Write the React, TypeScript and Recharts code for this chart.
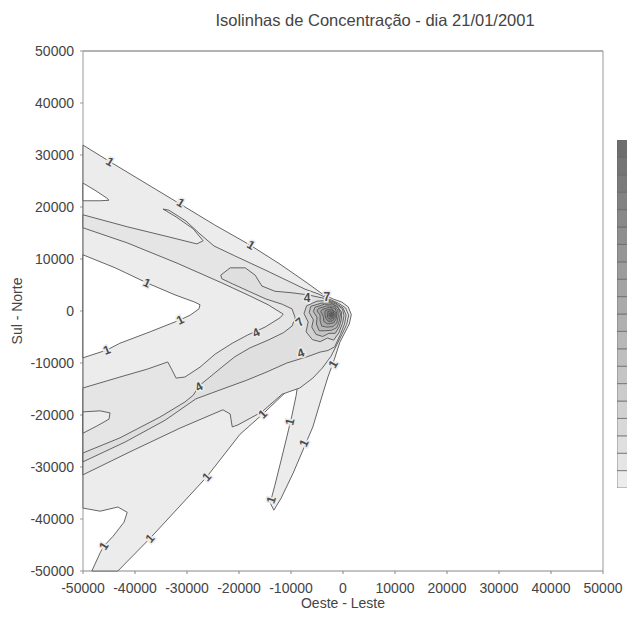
import { ScatterChart, Scatter, XAxis, YAxis, BarChart, Bar } from 'recharts'

// axis ticks (metres)
const axisTicks = [-50000, -40000, -30000, -20000, -10000, 0, 10000, 20000, 30000, 40000, 50000]

// contour levels of the colour scale
const contourLevels = [1, 4, 7, 10, 13, 16, 19, 22, 25, 28, 31, 34, 37, 40, 43, 46, 49, 52, 55, 58, 61]

// isoline 1 - outer envelope of the plume
const outerIsoline1 = [
  [-50000, 31900], [-44800, 28700], [-39000, 25200], [-31700, 20800], [-24600, 16500],
  [-17900, 12700], [-12100, 9000], [-6900, 5400], [-4000, 3300], [-1900, 2300],
  [-200, 1700], [1000, 800], [1600, -700], [1200, -2500], [-600, -6000],
  [-1700, -9400], [-2900, -12700], [-3800, -15600], [-5800, -22300], [-7300, -25800],
  [-9600, -31200], [-11900, -36000], [-13300, -38300], [-14000, -36900], [-13100, -33500],
  [-11900, -28700], [-10800, -24200], [-9800, -20000], [-9000, -16200], [-8700, -14000],
  [-10800, -15400], [-15400, -19800], [-19800, -23700], [-26200, -31900], [-33300, -39600],
  [-37100, -43700], [-43300, -50000], [-48300, -50000], [-46700, -46500], [-46000, -45200],
  [-44200, -43300], [-42100, -40600], [-41500, -38700], [-43300, -37700], [-46700, -38500],
  [-50000, -37900],
]

// areas below isoline 1 inside the envelope
const gapNorthWest = [
  [-50000, 24600], [-47500, 23100], [-45400, 21700], [-45000, 21300], [-46700, 21200], [-50000, 21200],
]
const gapInnerV = [
  [-50000, 10800], [-43800, 8300], [-37700, 5400], [-32300, 3100], [-28500, 1700],
  [-27500, 1200], [-27700, 400], [-29400, -800], [-31300, -1700], [-37100, -4000],
  [-42900, -6200], [-45400, -7500], [-50000, -9000],
]

// isoline 4
const band4 = [
  [-50000, 18500], [-41500, 16200], [-33300, 14200], [-28100, 12900], [-26900, 13500],
  [-28800, 15800], [-32100, 18100], [-34600, 19600], [-33500, 19400], [-30200, 17300],
  [-27500, 14800], [-24800, 12500], [-20800, 10600], [-15000, 7900], [-10200, 5600],
  [-7300, 4200], [-4800, 3300], [-2700, 2300], [-900, 1500], [500, 600],
  [1100, -800], [700, -2600], [-200, -4500], [-1200, -6500], [-2300, -8700],
  [-4000, -11000], [-5800, -12900], [-8300, -14800], [-11700, -16000], [-15600, -19400],
  [-20200, -21900], [-21300, -22300], [-21700, -19800], [-23100, -19000], [-31300, -22500],
  [-41000, -27100], [-50000, -31500], [-50000, -14800], [-42900, -12700], [-37700, -11200],
  [-33700, -9800], [-32900, -11300], [-32100, -12900], [-30400, -12700], [-27500, -10800],
  [-24600, -8300], [-21300, -6200], [-18300, -4600], [-15000, -3100], [-12100, -1300],
  [-11500, -600], [-14400, 1200], [-17900, 2900], [-23300, 5400], [-31900, 9200],
  [-41500, 13100], [-50000, 16000],
]
const dip4 = [
  [-50000, -19400], [-46700, -19200], [-44800, -19600], [-45000, -20800], [-47300, -22100], [-50000, -23500],
]

// isoline 7
const band7 = [
  [-50000, -27300], [-42900, -24400], [-35200, -20400], [-30400, -17500], [-28800, -16200],
  [-27700, -14400], [-25600, -12700], [-23300, -10800], [-20800, -8800], [-17900, -7100],
  [-14400, -5600], [-11500, -4200], [-9800, -2900], [-9200, -1300], [-9800, 400],
  [-11700, 1300], [-14800, 2300], [-17900, 3700], [-21200, 5200], [-23300, 6200],
  [-23500, 6900], [-21700, 8300], [-18800, 8300], [-16900, 6900], [-15600, 4800],
  [-13100, 3800], [-9800, 3500], [-6700, 3100], [-3500, 2400], [-1500, 1600],
  [0, 600], [600, -800], [300, -2500], [-500, -4500], [-1600, -6900],
  [-2900, -7600], [-4400, -7900], [-6900, -8800], [-10800, -10000], [-14600, -11700],
  [-18500, -13300], [-23700, -15200], [-28300, -16900], [-34200, -21000], [-41900, -25200],
  [-50000, -29000],
]

// isolines 10 .. 37 around the source
const core10 = [
  [-7000, 1000], [-5000, 1900], [-3000, 2000], [-1300, 1300], [-100, 400], [200, -900],
  [-100, -2400], [-800, -4200], [-1800, -5600], [-3000, -5200], [-4400, -5900], [-5900, -5500],
  [-7100, -4000], [-6700, -2100], [-7500, -500],
]
const core13 = [
  [-6200, 900], [-4200, 1500], [-2500, 1600], [-1100, 900], [-300, -200], [-300, -1500],
  [-700, -3000], [-1500, -4300], [-2700, -4300], [-3900, -4900], [-5200, -4500], [-6000, -3100],
  [-5700, -1700], [-6500, -300],
]
const core16 = [
  [-5400, 700], [-3600, 1300], [-2000, 1300], [-900, 600], [-500, -500], [-700, -1900],
  [-1200, -3200], [-2200, -3700], [-3500, -3800], [-4600, -3800], [-5100, -2500], [-5000, -1200],
  [-5700, -100],
]
const core19 = [
  [-4700, 500], [-3100, 1000], [-1700, 900], [-1000, 200], [-900, -1000], [-1200, -2300],
  [-1900, -3000], [-3100, -3100], [-4100, -2900], [-4400, -1900], [-4400, -800], [-5000, 0],
]
const core22 = [
  [-4000, 300], [-2600, 700], [-1500, 500], [-1200, -400], [-1300, -1500], [-1800, -2300],
  [-3000, -2500], [-3700, -2000], [-3800, -1000], [-4300, -100],
]
const core25 = [
  [-3400, 100], [-2200, 400], [-1500, -200], [-1500, -1200], [-2000, -1900], [-2800, -2000],
  [-3300, -1400], [-3500, -500],
]
const core28 = [
  [-2900, -100], [-2000, 100], [-1700, -600], [-1800, -1300], [-2500, -1600], [-3000, -1200],
]
const core31 = [
  [-2600, -400], [-2000, -300], [-1900, -900], [-2300, -1200], [-2700, -900],
]
const core34 = [
  [-2400, -600], [-2100, -550], [-2050, -900], [-2350, -1000],
]

// labels written on the isolines
const contourLabels = [
  { x: -44800, y: 28700, text: '1', angle: 31 },
  { x: -31200, y: 20800, text: '1', angle: 31 },
  { x: -17700, y: 12700, text: '1', angle: 31 },
  { x: -37700, y: 5400, text: '1', angle: 24 },
  { x: -31300, y: -1700, text: '1', angle: -26 },
  { x: -45400, y: -7500, text: '1', angle: -22 },
  { x: -15400, y: -19800, text: '1', angle: -45 },
  { x: -26200, y: -31900, text: '1', angle: -48 },
  { x: -37100, y: -43700, text: '1', angle: -48 },
  { x: -46000, y: -45200, text: '1', angle: -58 },
  { x: -13800, y: -36300, text: '1', angle: -72 },
  { x: -10200, y: -21300, text: '1', angle: -76 },
  { x: -7500, y: -25400, text: '1', angle: -66 },
  { x: -1900, y: -10200, text: '1', angle: -60 },
  { x: -6900, y: 2500, text: '4', angle: 0 },
  { x: -16700, y: -4200, text: '4', angle: -25 },
  { x: -27700, y: -14600, text: '4', angle: -30 },
  { x: -8100, y: -8100, text: '4', angle: -20 },
  { x: -3100, y: 2700, text: '7', angle: 0 },
  { x: -8300, y: -2100, text: '7', angle: -40 },
]

// grey scale, lightest (level 1) first
const shades = [
  '#ececec', '#e5e5e5', '#dfdfdf', '#d8d8d8', '#d1d1d1', '#cbcbcb', '#c4c4c4', '#bebebe', '#b7b7b7', '#b0b0b0',
  '#aaaaaa', '#a3a3a3', '#9c9c9c', '#969696', '#8f8f8f', '#898989', '#828282', '#7b7b7b', '#757575', '#6e6e6e',
]

const toPoints = (pts: number[][]) => [...pts, pts[0]].map(([x, y]) => ({ x, y }))

const regions = [
  { name: 'iso1', pts: outerIsoline1, fill: shades[0] },
  { name: 'gapNW', pts: gapNorthWest, fill: '#ffffff' },
  { name: 'gapV', pts: gapInnerV, fill: '#ffffff' },
  { name: 'iso4', pts: band4, fill: shades[1] },
  { name: 'dip4', pts: dip4, fill: shades[0] },
  { name: 'iso7', pts: band7, fill: shades[2] },
  { name: 'iso10', pts: core10, fill: shades[4] },
  { name: 'iso13', pts: core13, fill: shades[6] },
  { name: 'iso16', pts: core16, fill: shades[8] },
  { name: 'iso19', pts: core19, fill: shades[10] },
  { name: 'iso22', pts: core22, fill: shades[12] },
  { name: 'iso25', pts: core25, fill: shades[14] },
  { name: 'iso28', pts: core28, fill: shades[16] },
  { name: 'iso31', pts: core31, fill: shades[18] },
  { name: 'iso34', pts: core34, fill: shades[19] },
]

const colorbarRow = contourLevels.slice(1).reduce(
  (row: any, lv, i) => ({ ...row, [`s${i}`]: lv - contourLevels[i] }),
  { name: 'escala' }
)

const noDot = () => <g />

function ContourLabel(props: any) {
  const { cx, cy, payload } = props
  return (
    <text
      x={cx}
      y={cy}
      transform={`rotate(${payload.angle} ${cx} ${cy})`}
      textAnchor="middle"
      dominantBaseline="central"
      fontSize={12}
      fontWeight="bold"
      fill="#4a4a4a"
      stroke="#ececec"
      strokeWidth={3}
      paintOrder="stroke"
    >
      {payload.text}
    </text>
  )
}

const tickStyle = { fill: '#444', fontSize: 14 }

export default function App() {
  return (
    <div
      style={{
        position: 'absolute',
        left: 0,
        top: 0,
        width: 627,
        height: 618,
        overflow: 'hidden',
        background: '#fff',
        fontFamily: '"Liberation Sans", Arial, sans-serif',
      }}
    >
      <div
        style={{
          position: 'absolute',
          left: 375,
          top: 11,
          transform: 'translateX(-50%)',
          whiteSpace: 'nowrap',
          fontSize: 16.5,
          color: '#444',
        }}
      >
        Isolinhas de Concentração - dia 21/01/2001
      </div>

      <ScatterChart width={627} height={618} margin={{ top: 50, right: 23, bottom: 0, left: 0 }}>
        <XAxis
          type="number"
          dataKey="x"
          domain={[-50000, 50000]}
          ticks={axisTicks}
          height={47}
          tickSize={3}
          tickMargin={9}
          tick={tickStyle}
          stroke="#888"
          label={{
            content: ({ viewBox }: any) => (
              <text x={viewBox.x + viewBox.width / 2} y={viewBox.y + 37} textAnchor="middle" fontSize={14} fill="#444">
                Oeste - Leste
              </text>
            ),
          }}
        />
        <XAxis
          xAxisId="top"
          orientation="top"
          type="number"
          domain={[-50000, 50000]}
          ticks={axisTicks}
          height={1}
          tickSize={3}
          tick={false}
          stroke="#666"
        />
        <YAxis
          type="number"
          dataKey="y"
          domain={[-50000, 50000]}
          ticks={axisTicks}
          width={83}
          tickSize={3}
          tickMargin={6}
          tick={tickStyle}
          stroke="#999"
          label={{
            content: ({ viewBox }: any) => (
              <text
                x={17}
                y={viewBox.y + viewBox.height / 2}
                transform={`rotate(-90 17 ${viewBox.y + viewBox.height / 2})`}
                textAnchor="middle"
                dominantBaseline="central"
                fontSize={14}
                fill="#444"
              >
                Sul - Norte
              </text>
            ),
          }}
        />
        <YAxis
          yAxisId="right"
          orientation="right"
          type="number"
          domain={[-50000, 50000]}
          ticks={axisTicks}
          width={1}
          tickSize={3}
          tick={false}
          stroke="#999"
        />
        {regions.map((r) => (
          <Scatter
            key={r.name}
            name={r.name}
            data={toPoints(r.pts)}
            shape={noDot}
            line={{ fill: r.fill, stroke: '#555', strokeWidth: 0.9 }}
            lineType="joint"
            isAnimationActive={false}
          />
        ))}
        <Scatter name="rotulos" data={contourLabels} shape={ContourLabel} isAnimationActive={false} />
      </ScatterChart>

      <div style={{ position: 'absolute', left: 617, top: 140 }}>
        <BarChart width={30} height={348} data={[colorbarRow]} margin={{ top: 0, right: 0, bottom: 0, left: 0 }} barCategoryGap={0}>
          <XAxis dataKey="name" hide />
          <YAxis hide domain={[0, 'dataMax']} />
          {shades.map((c, i) => (
            <Bar key={i} dataKey={`s${i}`} stackId="a" fill={c} stroke="#666" strokeWidth={0.7} isAnimationActive={false} />
          ))}
        </BarChart>
      </div>
    </div>
  )
}
